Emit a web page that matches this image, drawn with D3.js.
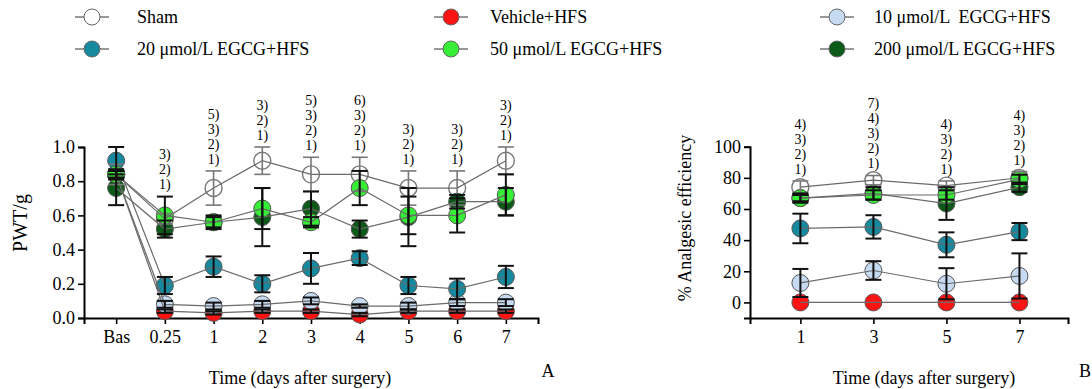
<!DOCTYPE html>
<html>
<head>
<meta charset="utf-8">
<script src="https://cdn.jsdelivr.net/npm/d3@7"></script>
<style>
  body { margin: 0; background: #fff; }
  svg, svg text { font-family: "Liberation Serif", "Times New Roman", "DejaVu Serif", serif; }
</style>
</head>
<body>
<div id="chart"></div>
<script>
// groups, in legend order (row by row)
const groups = ["Sham", "Vehicle+HFS", "10 μmol/L  EGCG+HFS", "20 μmol/L EGCG+HFS", "50 μmol/L EGCG+HFS", "200 μmol/L EGCG+HFS"];
const groupFill = ["#ffffff", "#ff1414", "#c6daf2", "#17899e", "#35ee35", "#0b5a17"];
// draw order for the marks (indexes into groups)
const drawOrder = [0, 1, 2, 3, 5, 4];

// panel A : PWT (g)
const timesA = ["Bas", "0.25", "1", "2", "3", "4", "5", "6", "7"];
const pwtSham    = [0.84, 0.58, 0.76, 0.92, 0.84, 0.84, 0.76, 0.76, 0.92];
const pwtVehicle = [0.84, 0.04, 0.03, 0.04, 0.04, 0.02, 0.04, 0.04, 0.04];
const pwt10      = [0.84, 0.08, 0.07, 0.08, 0.10, 0.07, 0.07, 0.09, 0.09];
const pwt20      = [0.92, 0.19, 0.30, 0.20, 0.29, 0.35, 0.19, 0.17, 0.24];
const pwt50      = [0.84, 0.60, 0.56, 0.64, 0.56, 0.76, 0.60, 0.60, 0.72];
const pwt200     = [0.76, 0.52, 0.56, 0.59, 0.64, 0.52, 0.59, 0.68, 0.68];
const errSham    = [0.06, 0.03, 0.10, 0.08, 0.10, 0.10, 0.10, 0.10, 0.08];
const errVehicle = [0.02, 0.01, 0.01, 0.01, 0.01, 0.01, 0.01, 0.01, 0.01];
const err10      = [0.02, 0.02, 0.02, 0.02, 0.02, 0.01, 0.02, 0.02, 0.02];
const err20      = [0.08, 0.05, 0.06, 0.05, 0.09, 0.04, 0.05, 0.06, 0.065];
const err50      = [0.03, 0.11, 0.04, 0.12, 0.03, 0.10, 0.11, 0.10, 0.12];
const err200     = [0.10, 0.05, 0.03, 0.17, 0.10, 0.05, 0.17, 0.04, 0.08];
const notesA = [[], ["3)", "2)", "1)"], ["5)", "3)", "2)", "1)"], ["3)", "2)", "1)"], ["5)", "3)", "2)", "1)"],
                ["6)", "3)", "2)", "1)"], ["3)", "2)", "1)"], ["3)", "2)", "1)"], ["3)", "2)", "1)"]];

// panel B : % analgesic efficiency
const daysB = [1, 3, 5, 7];
const effSham    = [74, 78.5, 75, 80];
const effVehicle = [0, 0, 0, 0];
const eff10      = [12.5, 20.5, 12, 17];
const eff20      = [47.5, 48.5, 37, 45.5];
const eff50      = [67, 69, 69, 79];
const eff200     = [67, 70, 63.5, 74];
const effErrSham    = [4, 3, 3, 4];
const effErrVehicle = [0, 0, 0, 0];
const effErr10      = [9, 6, 10, 14.5];
const effErr20      = [9.5, 7.5, 8, 5.5];
const effErr50      = [2, 3, 3, 3];
const effErr200     = [3, 4, 10.5, 3];
const notesB = [["4)", "3)", "2)", "1)"], ["7)", "4)", "3)", "2)", "1)"], ["4)", "3)", "2)", "1)"], ["4)", "3)", "2)", "1)"]];

(function () {
  const W = 1092, H = 389;
  const FONT = '"Liberation Serif", "Times New Roman", serif';
  const svg = d3.select("#chart").append("svg")
    .attr("width", W).attr("height", H)
    .attr("font-family", FONT);

  // legend
  const legend = svg.append("g");
  groups.forEach((g, i) => {
    const cx = [92, 451, 837][i % 3];
    const cy = [17, 49][Math.floor(i / 3)];
    legend.append("line")
      .attr("x1", cx - 17).attr("x2", cx + 17).attr("y1", cy).attr("y2", cy)
      .attr("stroke", "#777").attr("stroke-width", 1.5);
    legend.append("circle")
      .attr("cx", cx).attr("cy", cy).attr("r", 8)
      .attr("fill", groupFill[i]).attr("stroke", "#666").attr("stroke-width", 1);
    legend.append("text")
      .attr("x", cx + [45, 39, 37][i % 3]).attr("y", cy + 6)
      .style("font-size", "18px").style("white-space", "pre")
      .style("font-family", FONT)
      .text(g);
  });

  function panel(opt) {
    const g = svg.append("g");
    const x = opt.x, y = opt.y;
    const series = opt.values.map((v, i) => ({ i: i, v: v, e: opt.errors[i] }));

    // axes
    const ax = g.append("g")
      .attr("transform", `translate(0,${opt.y0})`)
      .call(d3.axisBottom(x).tickValues(opt.xTicks).tickFormat(opt.xFormat).tickSizeOuter(0).tickSize(6).tickPadding(6));
    const ay = g.append("g")
      .attr("transform", `translate(${opt.x0},0)`)
      .call(d3.axisLeft(y).tickValues(opt.yTicks).tickFormat(opt.yFormat).tickSizeOuter(0).tickSize(6).tickPadding(3));
    [ax, ay].forEach((a) => {
      a.attr("font-family", FONT).attr("font-size", 18);
      a.select(".domain").attr("stroke", "#000").attr("stroke-width", 2);
      a.selectAll(".tick line").attr("stroke", "#000").attr("stroke-width", 1.6);
      a.selectAll("text").style("font-size", "18px").attr("fill", "#000")
        .style("font-family", FONT);
    });

    const px = (k) => x(opt.xs[k]);

    // symbols
    drawOrder.forEach((s) => {
      g.append("g").selectAll("circle")
        .data(series[s].v)
        .join("circle")
        .attr("cx", (d, k) => px(k))
        .attr("cy", (d) => y(d))
        .attr("r", 8.5)
        .attr("fill", groupFill[s])
        .attr("stroke", s === 0 ? "#777" : "#555")
        .attr("stroke-width", s === 0 ? 1.4 : 1);
    });

    // connecting lines
    const line = d3.line().x((d, k) => px(k)).y((d) => y(d));
    drawOrder.forEach((s) => {
      g.append("path")
        .attr("d", line(series[s].v))
        .attr("fill", "none")
        .attr("stroke", "#6a6a6a")
        .attr("stroke-width", 1.2);
    });

    // error bars
    drawOrder.forEach((s) => {
      const col = s === 0 ? "#777" : "#111";
      const eg = g.append("g").attr("stroke", col).attr("stroke-width", s === 0 ? 1.6 : 2);
      series[s].v.forEach((d, k) => {
        const e = series[s].e[k];
        if (!e) return;
        const cx = px(k);
        eg.append("line").attr("x1", cx).attr("x2", cx).attr("y1", y(d - e)).attr("y2", y(d + e));
        eg.append("line").attr("x1", cx - 8).attr("x2", cx + 8).attr("y1", y(d - e)).attr("y2", y(d - e));
        eg.append("line").attr("x1", cx - 8).attr("x2", cx + 8).attr("y1", y(d + e)).attr("y2", y(d + e));
      });
    });

    // significance notes above each time point
    opt.notes.forEach((lines, k) => {
      if (!lines.length) return;
      const top = d3.max(series, (s) => s.v[k] + s.e[k]);
      const base = y(top) - 12;
      g.append("g").selectAll("text")
        .data(lines.slice().reverse())
        .join("text")
        .attr("x", px(k))
        .attr("y", (d, j) => base - j * 15)
        .attr("dy", "0.35em")
        .attr("text-anchor", "middle")
        .style("font-size", "14px")
        .style("font-family", FONT)
        .text((d) => d);
    });

    // titles
    g.append("text")
      .attr("x", opt.titleX).attr("y", 384)
      .attr("text-anchor", "middle")
      .style("font-size", "18px").style("font-family", FONT)
      .text("Time (days after surgery)");
    g.append("text")
      .attr("transform", `translate(${opt.yTitleX},${opt.yTitleY}) rotate(-90)`)
      .attr("text-anchor", "middle")
      .style("font-size", opt.yTitleSize).style("font-family", FONT)
      .text(opt.yTitle);
    g.append("text")
      .attr("x", opt.letterX).attr("y", 377)
      .attr("text-anchor", "middle")
      .style("font-size", "18px").style("font-family", FONT)
      .text(opt.letter);
  }

  // panel A
  const xA = d3.scalePoint().domain(timesA).range([84, 538]).padding(0.66);
  const yA = d3.scaleLinear().domain([0, 1]).range([318, 147]);
  panel({
    x: xA, y: yA, x0: 84, y0: 318,
    xs: timesA, xTicks: timesA, xFormat: (d) => d,
    yTicks: [0, 0.2, 0.4, 0.6, 0.8, 1.0], yFormat: d3.format(".1f"),
    values: [pwtSham, pwtVehicle, pwt10, pwt20, pwt50, pwt200],
    errors: [errSham, errVehicle, err10, err20, err50, err200],
    notes: notesA,
    titleX: 300, yTitle: "PWT/g", yTitleX: 27, yTitleY: 223, yTitleSize: "20px",
    letter: "A", letterX: 548,
  });

  // panel B
  const xB = d3.scaleLinear().domain([-0.38, 8.33]).range([750, 1068]);
  const yB = d3.scaleLinear().domain([-10, 100]).range([318, 146.7]);
  panel({
    x: xB, y: yB, x0: 750, y0: 318,
    xs: daysB, xTicks: daysB, xFormat: d3.format("d"),
    yTicks: [0, 20, 40, 60, 80, 100], yFormat: d3.format("d"),
    values: [effSham, effVehicle, eff10, eff20, eff50, eff200],
    errors: [effErrSham, effErrVehicle, effErr10, effErr20, effErr50, effErr200],
    notes: notesB,
    titleX: 924, yTitle: "% Analgesic efficiency", yTitleX: 691, yTitleY: 218, yTitleSize: "18px",
    letter: "B", letterX: 1085,
  });
})();
</script>
</body>
</html>
